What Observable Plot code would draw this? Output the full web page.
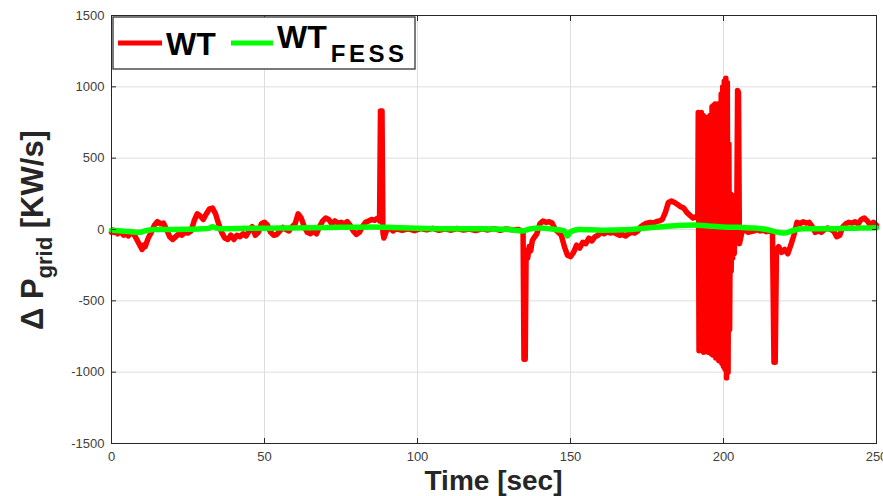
<!DOCTYPE html>
<html>
<head>
<meta charset="utf-8">
<script src="https://cdn.jsdelivr.net/npm/d3@7"></script>
<script src="https://cdn.jsdelivr.net/npm/@observablehq/plot@0.6"></script>
<style>
  html, body { margin: 0; padding: 0; background: #fff; overflow: hidden; }
  #chart { width: 883px; height: 496px; position: relative; }
</style>
</head>
<body>
<div id="chart"></div>
<script>
// ---- data ----
const xTicks = [0, 50, 100, 150, 200, 250];
const yTicks = [-1500, -1000, -500, 0, 500, 1000, 1500];
const seriesNames = ["WT", "WT_FESS"];

// WT (red) trace: time [sec] and ΔP_grid [KW/s]
const wtTime = [
  0,0.5,1,1.5,2,3,4,5,5.5,6,7,8,9,10,10.5,11,12,13,14,15,16,17,18,19,20,21,22,23,24,25,26,27,28,29,30,31,32,33,34,35,36,37,38,39,40,41,42,43,44,45,46,47,48,49,50,51,52,53,54,55,56,57,58,59,60,61,62,63,64,65,66,67,68,69,70,71,72,73,74,75,76,77,78,79,80,81,82,83,84,85,86,87,87.6,87.9,88.4,88.7,89,89.5,90,91,92,93,
  95,97,99,101,103,105,107,109,111,113,115,117,119,121,123,125,127,129,131,133,
  134,134.5,134.8,135.2,135.5,136,136.5,137,137.5,138,139,140,141,142,143,144,145,146,147,148,149,150,151,152,153,154,155,156,157,158,159,160,161,162,163,164,165,166,167,168,169,170,171,172,173,174,175,176,177,178,179,180,181,182,183,184,185,186,187,188,189,190,191,191.6,
  191.75,192,192.25,192.5,192.75,193,193.25,193.5,193.75,194,194.25,194.5,194.75,195,195.25,195.5,195.75,196,196.25,196.5,196.75,197,197.25,197.5,197.75,198,198.25,198.5,198.75,199,199.25,199.5,199.75,200,200.25,200.5,200.75,201,201.25,201.5,201.75,202,202.25,202.5,202.75,203,203.25,203.5,203.75,204,204.3,204.6,204.9,205.2,205.6,
  206,207,208,209,210,211,212,213,214,215,216,216.5,216.9,217.3,218,219,220,221,222,223,224,225,226,227,228,229,230,231,232,233,234,235,236,237,238,239,240,241,242,243,244,245,246,247,248,249,250
];
const wtValue = [
  -20,-5,-20,-10,-30,-15,-40,-20,-45,-30,-20,-60,-100,-140,-110,-120,-60,-20,30,55,40,45,0,-50,-70,-50,-30,-40,-20,-25,-10,60,110,95,70,110,145,150,110,40,-20,-60,-70,-40,-70,-40,-50,-30,-45,-10,20,-40,-20,40,50,30,-20,-40,-35,-10,15,0,-10,20,40,110,80,20,-20,-30,-10,-30,20,60,80,70,40,60,45,50,40,55,30,-10,-35,-20,20,50,60,70,65,80,60,830,830,-20,-60,-30,0,10,-10,5,
  -5,5,-8,6,-3,8,-6,4,-5,7,-4,3,-7,5,-3,6,-5,4,-2,0,
  -10,-20,-910,-910,-150,-200,-120,-150,-80,-60,-30,40,60,50,55,45,0,-20,-40,-120,-180,-190,-160,-110,-130,-90,-100,-60,-80,-50,-40,-20,-30,-15,-25,-20,-30,-40,-35,-45,-30,-20,-25,-10,20,35,45,50,45,55,60,70,120,190,200,190,175,160,150,120,100,80,90,100,
  820,-850,810,-840,820,-820,800,-860,790,-800,780,-830,770,-860,790,-820,800,-870,860,-880,870,-850,880,-900,875,-880,880,-920,870,-900,950,-940,1000,-960,1040,-980,1060,-1040,1030,-1000,600,-700,250,-290,240,-200,220,-170,80,-90,-60,975,960,-100,-60,
  -20,0,-20,-15,-10,0,-10,-5,-15,-10,-20,-930,-930,-150,-120,-160,-140,-170,-110,-40,50,40,55,45,50,20,-20,-10,-20,0,10,0,-10,-50,-40,20,40,50,45,55,40,70,80,60,30,50,30
];

// WT_FESS (green) trace
const fessTime = [0,3,6,9,11,14,20,25,30,32,33,34,36,45,55,65,75,85,90,100,110,120,130,134,137,140,145,148,149,150,153,160,170,175,180,185,190,195,200,205,210,214,218,220,223,226,235,240,245,250];
const fessValue = [-5,-10,-15,-20,-10,0,0,2,5,10,20,12,5,8,10,12,15,18,15,8,5,5,0,-10,5,10,0,-10,-45,-15,0,-5,0,10,20,28,32,25,18,15,10,0,-20,-25,-5,5,5,8,10,12];

// ---- build tables ----
const wt = wtTime.map((t, i) => ({t, v: wtValue[i]}));
const fess = fessTime.map((t, i) => ({t, v: fessValue[i]}));

const tickColor = "#262626";
const fmt = d => String(d);

const plot = Plot.plot({
  width: 883,
  height: 496,
  marginLeft: 111,
  marginRight: 7,
  marginTop: 15,
  marginBottom: 53,
  style: {fontFamily: "'Liberation Sans', Arial, sans-serif", fontSize: "13px", background: "#fff", overflow: "visible"},
  x: {domain: [0, 250]},
  y: {domain: [-1500, 1500]},
  marks: [
    Plot.gridX(xTicks, {stroke: "#dedede", strokeOpacity: 1}),
    Plot.gridY(yTicks, {stroke: "#dedede", strokeOpacity: 1}),
    Plot.line(wt, {x: "t", y: "v", stroke: "#ff0000", strokeWidth: 5.5, strokeLinejoin: "round", strokeLinecap: "round"}),
    Plot.line(fess, {x: "t", y: "v", stroke: "#00ff00", strokeWidth: 5.5, curve: "monotone-x", strokeLinejoin: "round"}),
    Plot.frame({stroke: tickColor, strokeWidth: 1}),
    // inward ticks on all four sides
    Plot.axisX(xTicks, {anchor: "bottom", tickSize: 5, dy: -5, fill: "none", stroke: tickColor, label: null}),
    Plot.axisX(xTicks, {anchor: "top", tickSize: 5, dy: 5, fill: "none", stroke: tickColor, label: null}),
    Plot.axisY(yTicks, {anchor: "left", tickSize: 5, dx: 5, fill: "none", stroke: tickColor, label: null}),
    Plot.axisY(yTicks, {anchor: "right", tickSize: 5, dx: -5, fill: "none", stroke: tickColor, label: null}),
    // tick labels
    Plot.axisX(xTicks, {anchor: "bottom", tickSize: 0, tickPadding: 8, tickFormat: fmt, label: null, fill: "#404040", stroke: "none"}),
    Plot.axisY(yTicks, {anchor: "left", tickSize: 0, tickPadding: 7, tickFormat: fmt, label: null, fill: "#404040", stroke: "none"})
  ]
});

document.getElementById("chart").appendChild(plot);

const svg = d3.select(plot);
const font = "'Liberation Sans', Arial, sans-serif";

// x-axis label
svg.append("text")
  .attr("x", 493.5).attr("y", 490)
  .attr("text-anchor", "middle")
  .attr("font-family", font).attr("font-weight", "bold").attr("font-size", 28)
  .attr("fill", "#262626")
  .text("Time [sec]");

// y-axis label with subscript
const yl = svg.append("text")
  .attr("transform", "translate(43,230) rotate(-90)")
  .attr("text-anchor", "middle")
  .attr("font-family", font).attr("font-weight", "bold").attr("font-size", 31)
  .attr("fill", "#262626");
yl.append("tspan").text("\u0394 P");
yl.append("tspan").attr("font-size", 22).attr("dy", 9).text("grid");
yl.append("tspan").attr("dy", -9).text(" [KW/s]");

// legend
const lg = svg.append("g").attr("text-anchor", "start");
lg.append("rect").attr("x", 113).attr("y", 17).attr("width", 302).attr("height", 52)
  .attr("fill", "#fff").attr("stroke", "#333").attr("stroke-width", 1.3);
lg.append("line").attr("x1", 118).attr("x2", 162).attr("y1", 43).attr("y2", 43)
  .attr("stroke", "#ff0000").attr("stroke-width", 5);
lg.append("text").attr("x", 166).attr("y", 55).attr("text-anchor", "start")
  .attr("font-family", font).attr("font-weight", "bold").attr("font-size", 32).attr("fill", "#000")
  .text(seriesNames[0]);
lg.append("line").attr("x1", 231).attr("x2", 273).attr("y1", 43).attr("y2", 43)
  .attr("stroke", "#00ff00").attr("stroke-width", 5);
const t2 = lg.append("text").attr("x", 277).attr("y", 48).attr("text-anchor", "start")
  .attr("font-family", font).attr("font-weight", "bold").attr("font-size", 32).attr("fill", "#000");
t2.append("tspan").text(seriesNames[1].split("_")[0]);
t2.append("tspan").attr("font-size", 24).attr("dy", 14).attr("dx", 4).attr("letter-spacing", 3.5).text(seriesNames[1].split("_")[1]);
</script>
</body>
</html>
